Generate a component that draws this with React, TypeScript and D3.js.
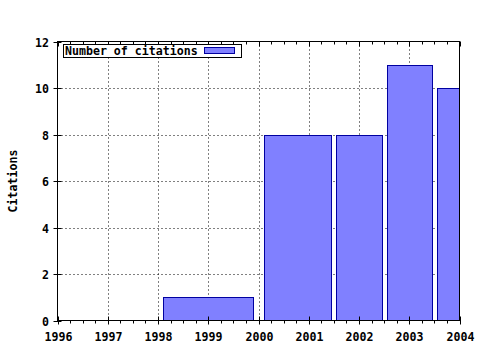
import React from "react";
import * as d3 from "d3";

const years = [1999, 2001, 2002, 2003, 2004];
const citations = [1, 8, 8, 11, 10];
const xTicks = [1996, 1997, 1998, 1999, 2000, 2001, 2002, 2003, 2004];
const yTicks = [0, 2, 4, 6, 8, 10, 12];
const boxRelWidth = 0.9;

const W = 480, H = 350;
const L = 57.5, R = 459.5, T = 41.5, B = 320.5;
const FONT = "'DejaVu Sans Mono', monospace";
const FS = 11.6;

export default function App() {
  const x = d3.scaleLinear().domain([1996, 2004]).range([L, R]);
  const y = d3.scaleLinear().domain([0, 12]).range([B, T]);

  // gnuplot-style automatic box widths
  const bars = years.map((yr, i) => {
    const leftHalf = i > 0 ? (yr - years[i - 1]) / 2 : (years[i + 1] - yr) / 2;
    const rightHalf = i < years.length - 1 ? (years[i + 1] - yr) / 2 : (yr - years[i - 1]) / 2;
    return { x0: yr - leftHalf * boxRelWidth, x1: yr + rightHalf * boxRelWidth, v: citations[i] };
  });

  const minorTicks: number[] = [];
  for (let i = 0; i < xTicks.length - 1; i++) {
    for (let k = 1; k < 4; k++) minorTicks.push(xTicks[i] + k * 0.25);
  }

  const grid = { stroke: "#000", strokeWidth: 1, strokeDasharray: "1,3" };

  return (
    <svg width={W} height={H} style={{ position: "absolute", left: 0, top: 0, background: "#fff" }}>
      <defs>
        <clipPath id="plot">
          <rect x={L} y={T} width={R - L} height={B - T} />
        </clipPath>
      </defs>
      <rect x={0} y={0} width={W} height={H} fill="#fff" />
      {/* grid */}
      {xTicks.slice(1, -1).map((t) => (
        <line key={"gx" + t} x1={Math.round(x(t)) + 0.5} x2={Math.round(x(t)) + 0.5} y1={T} y2={B} {...grid} />
      ))}
      {yTicks.slice(1, -1).map((t) => (
        <line key={"gy" + t} x1={L} x2={R} y1={Math.round(y(t)) + 0.5} y2={Math.round(y(t)) + 0.5} {...grid} />
      ))}
      {/* bars */}
      <g clipPath="url(#plot)">
        {bars.map((b, i) => (
          <rect
            key={i}
            x={Math.round(x(b.x0)) + 0.5}
            y={Math.round(y(b.v)) + 0.5}
            width={Math.round(x(b.x1)) - Math.round(x(b.x0))}
            height={Math.round(y(0)) - Math.round(y(b.v))}
            fill="#8080ff"
            stroke="#0000a0"
            strokeWidth={1}
          />
        ))}
      </g>
      {/* frame */}
      <rect x={L} y={T} width={R - L} height={B - T} fill="none" stroke="#000" strokeWidth={1} />
      {/* x ticks */}
      {xTicks.map((t) => {
        const px = Math.round(x(t)) + 0.5;
        return (
          <g key={"xt" + t}>
            <line x1={px} x2={px} y1={B - 4} y2={B + 4} stroke="#000" />
            <line x1={px} x2={px} y1={T} y2={T + 5} stroke="#000" />
            <text x={px} y={341} textAnchor="middle" fontFamily={FONT} fontWeight="bold" fontSize={FS}>
              {t}
            </text>
          </g>
        );
      })}
      {minorTicks.map((t, i) => {
        const px = Math.round(x(t)) + 0.5;
        return (
          <g key={"mt" + i}>
            <line x1={px} x2={px} y1={B} y2={B + 3} stroke="#000" />
            <line x1={px} x2={px} y1={T} y2={T + 3} stroke="#000" />
          </g>
        );
      })}
      {/* y ticks */}
      {yTicks.map((t) => {
        const py = Math.round(y(t)) + 0.5;
        return (
          <g key={"yt" + t}>
            <line x1={L - 4} x2={L + 4} y1={py} y2={py} stroke="#000" />
            <text x={49} y={py + 4} textAnchor="end" fontFamily={FONT} fontWeight="bold" fontSize={FS}>
              {t}
            </text>
          </g>
        );
      })}
      {/* y label */}
      <text
        transform={`translate(17,${(T + B) / 2}) rotate(-90)`}
        textAnchor="middle"
        fontFamily={FONT}
        fontWeight="bold"
        fontSize={FS}
      >
        Citations
      </text>
      {/* legend */}
      <rect x={63.5} y={44.5} width={178} height={13} fill="#fff" stroke="#000" strokeWidth={1} />
      <text x={65} y={55} fontFamily={FONT} fontWeight="bold" fontSize={FS}>
        Number of citations
      </text>
      <rect x={204.5} y={47.5} width={30} height={6} fill="#8080ff" stroke="#0000a0" strokeWidth={1} />
    </svg>
  );
}
